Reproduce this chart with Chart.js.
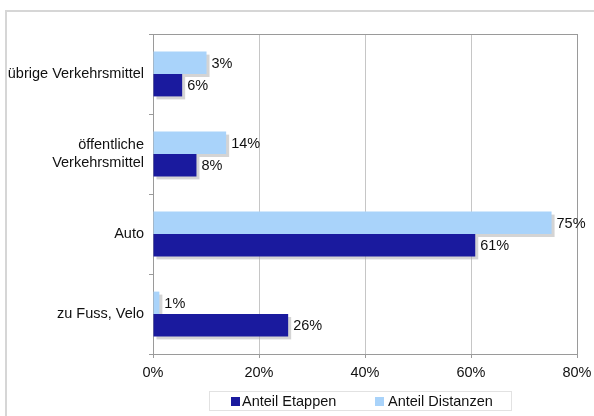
<!DOCTYPE html>
<html>
<head>
<meta charset="utf-8">
<script src="https://cdn.jsdelivr.net/npm/chart.js@4/dist/chart.umd.min.js"></script>
<style>
html,body{margin:0;padding:0;background:#fff;}
#wrap{width:594px;height:416px;position:relative;}
</style>
</head>
<body>
<div id="wrap"><canvas id="c" width="594" height="416"></canvas></div>
<script>
const categories = [['übrige Verkehrsmittel'], ['öffentliche', 'Verkehrsmittel'], ['Auto'], ['zu Fuss, Velo']];
const seriesNames = ['Anteil Etappen', 'Anteil Distanzen'];
const etappen = [5.5, 8.2, 60.8, 25.5];
const etappenLabels = ['6%', '8%', '61%', '26%'];
const distanzen = [10.1, 13.8, 75.2, 1.2];
const distanzenLabels = ['3%', '14%', '75%', '1%'];
const xTicks = [0, 20, 40, 60, 80];

const DARK = '#1a1a9e';
const LIGHT = '#a9d3fa';
const FONT = '"Liberation Sans", Arial, Helvetica, sans-serif';
const FS = 14.5;

const framePlugin = {
  id: 'frame',
  beforeDraw(chart) {
    const ctx = chart.ctx;
    ctx.save();
    ctx.fillStyle = '#fff';
    ctx.fillRect(0, 0, chart.width, chart.height);
    ctx.strokeStyle = '#d6d6d6';
    ctx.lineWidth = 2;
    ctx.beginPath();
    ctx.moveTo(6, 416);
    ctx.lineTo(6, 11);
    ctx.lineTo(594, 11);
    ctx.stroke();
    ctx.restore();
  },
  afterDraw(chart) {
    const ctx = chart.ctx;
    const a = chart.chartArea;
    ctx.save();
    ctx.strokeStyle = '#9a9a9a';
    ctx.lineWidth = 1;
    ctx.beginPath();
    ctx.moveTo(a.left, a.top + 0.5);
    ctx.lineTo(a.right, a.top + 0.5);
    ctx.stroke();
    // legend
    ctx.strokeStyle = '#e2e2e2';
    ctx.lineWidth = 1;
    ctx.strokeRect(209.5, 391.5, 302, 19);
    ctx.font = FS + 'px ' + FONT;
    ctx.textBaseline = 'middle';
    ctx.textAlign = 'left';
    ctx.fillStyle = DARK;
    ctx.fillRect(231, 397, 9, 9);
    ctx.fillStyle = '#111';
    ctx.fillText(seriesNames[0], 242, 402);
    ctx.fillStyle = LIGHT;
    ctx.fillRect(375, 397, 9, 9);
    ctx.fillStyle = '#111';
    ctx.fillText(seriesNames[1], 388, 402);
    ctx.restore();
  }
};

const shadowPlugin = {
  id: 'barShadow',
  beforeDatasetsDraw(chart) {
    const ctx = chart.ctx;
    ctx.save();
    ctx.fillStyle = 'rgba(170,170,170,0.5)';
    chart.data.datasets.forEach((ds, i) => {
      chart.getDatasetMeta(i).data.forEach(bar => {
        const h = bar.height;
        const left = Math.min(bar.base, bar.x);
        const w = Math.abs(bar.x - bar.base);
        ctx.fillRect(left + 3, bar.y - h / 2 + 3, w, h);
      });
    });
    ctx.restore();
  },
  afterDatasetsDraw(chart) {
    const ctx = chart.ctx;
    ctx.save();
    ctx.font = FS + 'px ' + FONT;
    ctx.fillStyle = '#111';
    ctx.textBaseline = 'middle';
    ctx.textAlign = 'left';
    chart.data.datasets.forEach((ds, i) => {
      chart.getDatasetMeta(i).data.forEach((bar, j) => {
        ctx.fillText(ds.valueLabels[j], bar.x + 5, bar.y + 1);
      });
    });
    ctx.restore();
  }
};

new Chart(document.getElementById('c'), {
  type: 'bar',
  data: {
    labels: categories,
    datasets: [
      { label: seriesNames[1], data: distanzen, valueLabels: distanzenLabels, backgroundColor: LIGHT, borderWidth: 0 },
      { label: seriesNames[0], data: etappen, valueLabels: etappenLabels, backgroundColor: DARK, borderWidth: 0 }
    ]
  },
  options: {
    indexAxis: 'y',
    responsive: false,
    animation: false,
    devicePixelRatio: 1,
    layout: { padding: { top: 34, right: 17, left: 0, bottom: 32 } },
    datasets: { bar: { categoryPercentage: 0.56, barPercentage: 1 } },
    plugins: { legend: { display: false }, tooltip: { enabled: false } },
    scales: {
      x: {
        min: 0, max: 80,
        afterFit(scale) { scale.height = 30; scale.paddingRight = 0; scale.paddingLeft = 0; },
        afterBuildTicks(scale) { scale.ticks = xTicks.map(v => ({ value: v })); },
        ticks: {
          callback: v => v + '%',
          color: '#111',
          font: { family: FONT, size: FS },
          padding: 6,
          maxRotation: 0
        },
        grid: {
          color: ctx => (ctx.tick && ctx.tick.value === 80) ? '#9a9a9a' : '#c6c6c6',
          lineWidth: 1,
          drawTicks: true,
          tickLength: 4,
          tickColor: '#9a9a9a'
        },
        border: { display: true, color: '#9a9a9a', width: 1 }
      },
      y: {
        afterFit(scale) { scale.width = 153; scale.paddingTop = 0; scale.paddingBottom = 0; },
        ticks: {
          color: '#111',
          font: { family: FONT, size: FS, lineHeight: 1.18 },
          padding: 5,
          crossAlign: 'near'
        },
        grid: {
          offset: true,
          drawOnChartArea: false,
          drawTicks: true,
          tickLength: 4,
          tickColor: '#9a9a9a'
        },
        border: { display: true, color: '#9a9a9a', width: 1 }
      }
    }
  },
  plugins: [framePlugin, shadowPlugin]
});
</script>
</body>
</html>
